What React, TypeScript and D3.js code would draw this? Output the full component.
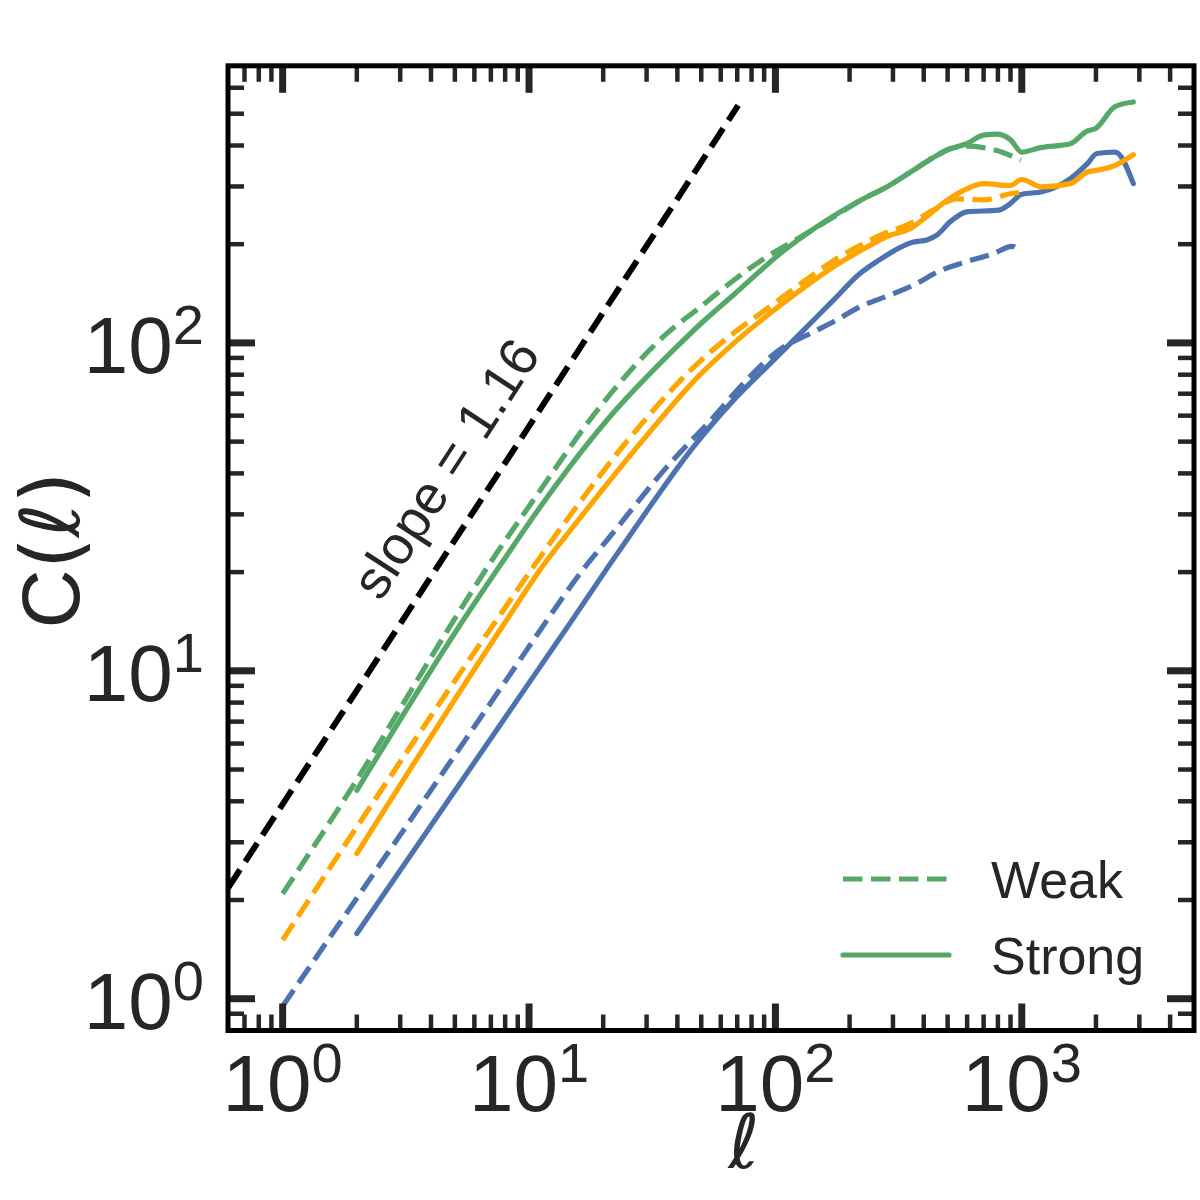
import * as d3 from "d3";

// ell values and C(ell), one pair of arrays per curve
const weakGreenL = [1, 2, 4.93, 7.06, 10.4, 19.4, 36.2, 49.5, 67.5, 92.3, 126, 172, 221, 283, 363, 452, 512, 598, 699, 792, 898, 990];
const weakGreenC = [2.09, 4.65, 14.2, 21.7, 33.1, 63.8, 106.7, 128.6, 155, 183, 210, 242, 272, 299, 336, 373, 391, 398, 394, 386, 373, 361];

const strongGreenL = [2, 5.25, 7.87, 11.1, 20.7, 38.5, 49.5, 67.5, 108, 147, 221, 283, 363, 452, 512, 598, 699, 792, 898, 1000, 1189, 1574, 1845, 1986, 2394, 2837];
const strongGreenC = [4.32, 13.8, 21.7, 31.6, 58.1, 95, 114, 140, 191, 226, 272, 299, 336, 373, 391, 405, 430, 433, 417, 382, 394, 405, 443, 450, 526, 543];

const weakOrangeL = [1, 2, 7.39, 14.2, 26.5, 49.5, 67.5, 92.3, 126, 172, 214, 274, 352, 437, 545, 699, 898, 990];
const weakOrangeC = [1.51, 3.34, 14.3, 28.8, 52.9, 88, 107, 127, 151, 178, 196, 215, 231, 254, 275, 273, 285, 288];

const strongOrangeL = [2, 7.87, 11.8, 15.1, 28.2, 49.5, 67.5, 92.3, 126, 172, 221, 292, 352, 425, 497, 598, 699, 898, 1000, 1207, 1574, 1845, 2018, 2394, 2837];
const strongOrangeC = [2.77, 13.8, 21.7, 27.5, 49.3, 80, 99.5, 121, 144.6, 170.6, 191, 213, 223, 248, 272, 295, 306, 302, 315, 299, 306, 332, 336, 348, 375];

const weakBlueL = [1, 9.19, 11.1, 17.1, 20.7, 36.2, 57.8, 71.9, 108, 134, 172, 221, 292, 363, 466, 598, 767, 912, 985];
const weakBlueC = [0.95, 10.8, 13.3, 21.0, 25.0, 41.8, 60.9, 73.4, 97.2, 105.5, 116, 129, 140, 150, 166, 177, 187, 197, 189];

const strongBlueL = [2, 11.1, 14.7, 20.7, 26.5, 46.5, 67.5, 92.3, 126, 172, 221, 258, 363, 412, 452, 512, 598, 805, 898, 1000, 1207, 1574, 1845, 2018, 2394, 2837];
const strongBlueC = [1.58, 10.3, 14.0, 20.5, 26.8, 48.2, 66.8, 84.5, 106.7, 135, 163, 177, 203, 206, 213, 234, 251, 254, 266, 284, 289, 317, 352, 378, 382, 306];

// the black guide line, end points
const guideL = [0.6, 70.6];
const guideC = [2.175, 530];

const legendLabels = ["Weak", "Strong"];
const slopeLabel = "slope = 1.16";

const GREEN = "#55a868";
const ORANGE = "#ffa500";
const BLUE = "#4c72b0";
const INK = "#262626";
const SANS = "'Liberation Sans', Arial, sans-serif";
const MATH = "'DejaVu Sans', sans-serif";

const left = 228;
const right = 1194;
const top = 65.8;
const bottom = 1030.5;

const dash = "19.5 8.5";

function pairs(xs: number[], ys: number[]): [number, number][] {
  return xs.map((v, i) => [v, ys[i]] as [number, number]);
}

export default function App() {
  const x = d3.scaleLog().domain([0.6, 5000]).range([left, right]);
  const y = d3.scaleLog().domain([0.8, 700]).range([bottom, top]);
  const line = d3
    .line<[number, number]>()
    .x((d) => x(d[0]))
    .y((d) => y(d[1]))
    .curve(d3.curveMonotoneX);
  const straight = d3
    .line<[number, number]>()
    .x((d) => x(d[0]))
    .y((d) => y(d[1]));

  const series = [
    { key: "sb", data: pairs(strongBlueL, strongBlueC), color: BLUE, dashed: false },
    { key: "wb", data: pairs(weakBlueL, weakBlueC), color: BLUE, dashed: true },
    { key: "so", data: pairs(strongOrangeL, strongOrangeC), color: ORANGE, dashed: false },
    { key: "wo", data: pairs(weakOrangeL, weakOrangeC), color: ORANGE, dashed: true },
    { key: "sg", data: pairs(strongGreenL, strongGreenC), color: GREEN, dashed: false },
    { key: "wg", data: pairs(weakGreenL, weakGreenC), color: GREEN, dashed: true },
  ];

  const isMajor = (t: number) => Math.abs(Math.log10(t) - Math.round(Math.log10(t))) < 1e-9;
  const [x0, x1] = x.domain();
  const [y0, y1] = y.domain();
  const xTicks = x.ticks().filter((t) => t > x0 * 1.001 && t < x1 * 0.999);
  const yTicks = y.ticks().filter((t) => t > y0 * 1.001 && t < y1 * 0.999);

  const tickStyle = (t: number) =>
    isMajor(t) ? { len: 27, w: 7 } : { len: 16, w: 4.5 };

  const slopePos: [number, number] = [5.3, 38.6];

  return (
    <svg
      width={1200}
      height={1200}
      viewBox="0 0 1200 1200"
      style={{ position: "absolute", left: 0, top: 0, background: "#fff" }}
    >
      <defs>
        <clipPath id="plot-area">
          <rect x={left} y={top} width={right - left} height={bottom - top} />
        </clipPath>
      </defs>
      <rect width={1200} height={1200} fill="#fff" />

      <g clipPath="url(#plot-area)">
        <path
          d={straight(pairs(guideL, guideC)) ?? ""}
          fill="none"
          stroke="#000"
          strokeWidth={6}
          strokeDasharray="22 9.6"
        />
        {series.map((s) => (
          <path
            key={s.key}
            d={line(s.data) ?? ""}
            fill="none"
            stroke={s.color}
            strokeWidth={5.2}
            strokeLinecap={s.dashed ? "butt" : "round"}
            strokeLinejoin="round"
            strokeDasharray={s.dashed ? dash : undefined}
          />
        ))}
      </g>

      <text
        transform={`translate(${x(slopePos[0])},${y(slopePos[1])}) rotate(-57)`}
        textAnchor="middle"
        fontFamily={SANS}
        fontSize={54}
        fill={INK}
      >
        {slopeLabel}
      </text>

      {/* ticks on all four sides, pointing in */}
      {xTicks.map((t) => {
        const { len, w } = tickStyle(t);
        return (
          <g key={`xt-${t}`} stroke={INK} strokeWidth={w}>
            <line x1={x(t)} x2={x(t)} y1={bottom} y2={bottom - len} />
            <line x1={x(t)} x2={x(t)} y1={top} y2={top + len} />
          </g>
        );
      })}
      {yTicks.map((t) => {
        const { len, w } = tickStyle(t);
        return (
          <g key={`yt-${t}`} stroke={INK} strokeWidth={w}>
            <line x1={left} x2={left + len} y1={y(t)} y2={y(t)} />
            <line x1={right} x2={right - len} y1={y(t)} y2={y(t)} />
          </g>
        );
      })}

      <rect
        x={left}
        y={top}
        width={right - left}
        height={bottom - top}
        fill="none"
        stroke="#000"
        strokeWidth={5}
      />

      {xTicks.filter(isMajor).map((t) => (
        <text key={`xl-${t}`} x={x(t)} y={1111} textAnchor="middle" fontFamily={SANS} fill={INK}>
          <tspan fontSize={80}>10</tspan>
          <tspan fontSize={56} dy={-29}>
            {Math.round(Math.log10(t))}
          </tspan>
        </text>
      ))}
      {yTicks.filter(isMajor).map((t) => (
        <text key={`yl-${t}`} x={204} y={y(t) + 30} textAnchor="end" fontFamily={SANS} fill={INK}>
          <tspan fontSize={80}>10</tspan>
          <tspan fontSize={56} dy={-29}>
            {Math.round(Math.log10(t))}
          </tspan>
        </text>
      ))}

      <text
        x={744}
        y={1168}
        textAnchor="middle"
        fontFamily={MATH}
        fontStyle="italic"
        fontSize={75}
        fill={INK}
      >
        ℓ
      </text>
      <text
        transform="translate(79,550) rotate(-90)"
        textAnchor="middle"
        fill={INK}
        fontSize={82}
      >
        <tspan fontFamily={SANS}>C</tspan>
        <tspan fontFamily={MATH}>(</tspan>
        <tspan fontFamily={MATH} fontStyle="italic">ℓ</tspan>
        <tspan fontFamily={MATH}>)</tspan>
      </text>

      {legendLabels.map((label, i) => {
        const ly = 879 + i * 76;
        return (
          <g key={label}>
            <line
              x1={843}
              x2={949}
              y1={ly}
              y2={ly}
              stroke={GREEN}
              strokeWidth={5.2}
              strokeLinecap={i === 0 ? "butt" : "round"}
              strokeDasharray={i === 0 ? dash : undefined}
            />
            <text x={991} y={ly + 19} fontFamily={SANS} fontSize={52} fill={INK}>
              {label}
            </text>
          </g>
        );
      })}
    </svg>
  );
}
